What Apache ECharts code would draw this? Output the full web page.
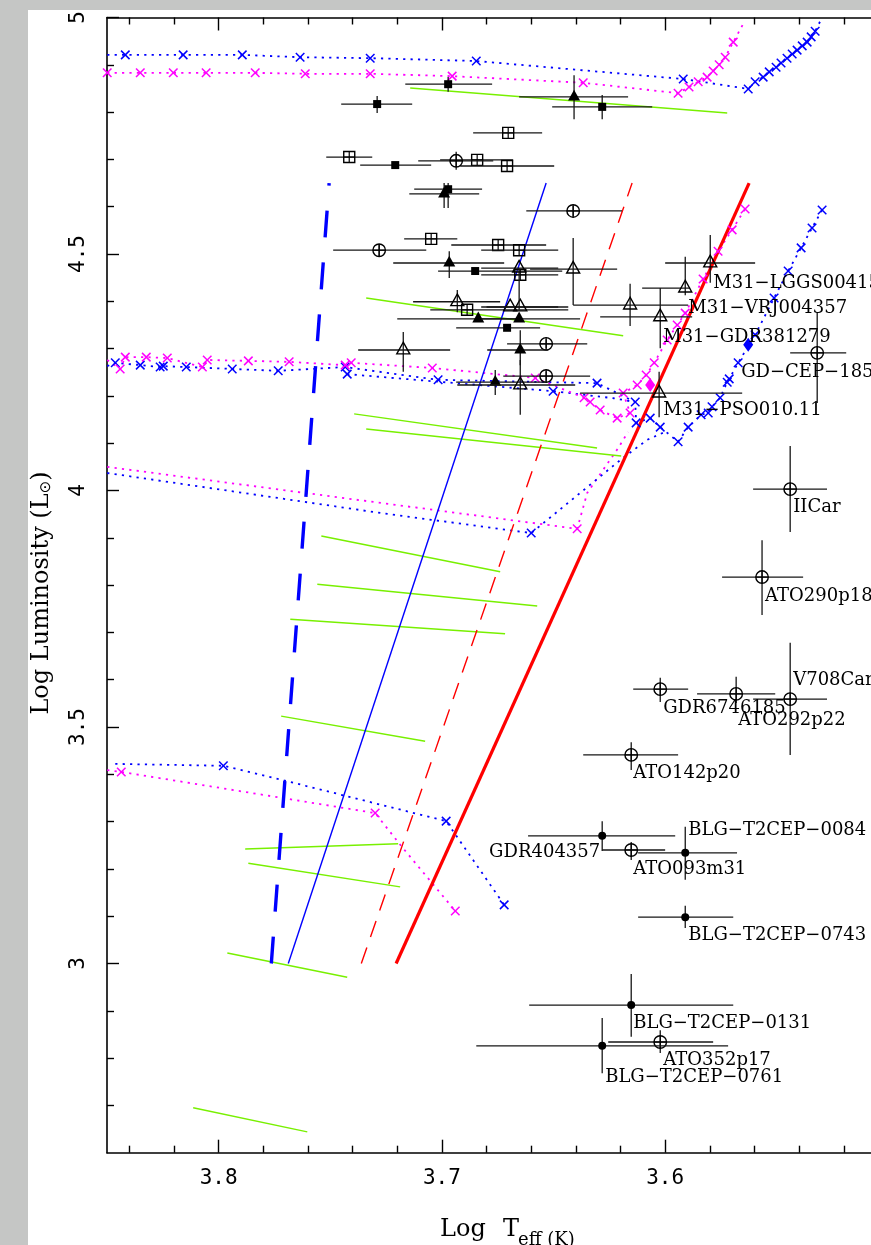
<!DOCTYPE html>
<html><head><meta charset="utf-8">
<script src="https://cdn.jsdelivr.net/npm/echarts@6/dist/echarts.min.js"></script>
<style>html,body{margin:0;padding:0;background:#fff}#c{width:871px;height:1245px}</style>
</head><body><div id="c"></div>
<script>
// ---------------- axis ticks ----------------
const xMajor = [3.6, 3.7, 3.8];
const xMinor = [3.52,3.54,3.56,3.58,3.62,3.64,3.66,3.68,3.72,3.74,3.76,3.78,3.82,3.84];
const yMajor = [3, 3.5, 4, 4.5, 5];
const yMinor = [2.7,2.8,2.9,3.1,3.2,3.3,3.4,3.6,3.7,3.8,3.9,4.1,4.2,4.3,4.4,4.6,4.7,4.8,4.9];
const xRange = [3.5078, 3.85];   // visible part of the (cropped) temperature axis
const yRange = [2.6, 5.0];

// ---------------- evolutionary tracks [logTeff, logL, hasMarker] ----------------
const blueTrackTop = [
 [3.8499,4.921,0],[3.8418,4.921,1],[3.8159,4.921,1],[3.7894,4.921,1],[3.7635,4.916,1],[3.7321,4.914,1],
 [3.6846,4.908,1],[3.5919,4.870,1],[3.5628,4.849,1],[3.5597,4.864,1],[3.5561,4.874,1],[3.5534,4.885,1],
 [3.5503,4.895,1],[3.5481,4.904,1],[3.5454,4.914,1],[3.5431,4.923,1],[3.5409,4.931,1],[3.5386,4.940,1],
 [3.5364,4.948,1],[3.5346,4.959,1],[3.5328,4.971,1],[3.5297,5.000,0]
];
const magentaTrackTop = [
 [3.8499,4.883,1],[3.8351,4.883,1],[3.8203,4.883,1],[3.8056,4.883,1],[3.7836,4.883,1],[3.7612,4.881,1],
 [3.7321,4.881,1],[3.6954,4.876,1],[3.6367,4.862,1],[3.5942,4.840,1],[3.5893,4.853,1],[3.5852,4.864,1],
 [3.5812,4.874,1],[3.5785,4.887,1],[3.5758,4.900,1],[3.5731,4.916,1],[3.5695,4.948,1],[3.5673,4.967,0],
 [3.5651,4.986,0]
];
const blueTrackMid = [
 [3.8499,4.263,0],[3.8463,4.270,1],[3.8351,4.265,1],[3.8262,4.261,1],[3.8248,4.263,1],[3.8145,4.261,1],
 [3.7939,4.257,1],[3.7733,4.253,1],[3.7433,4.261,1],[3.7017,4.234,1],[3.6305,4.227,1],[3.6134,4.187,1],
 [3.6130,4.143,1],[3.6067,4.153,1],[3.6022,4.134,1],[3.5942,4.103,1],[3.5897,4.134,1],[3.5839,4.160,1],
 [3.5807,4.164,1],[3.5790,4.177,1],[3.5754,4.196,1],[3.5722,4.229,1],[3.5713,4.236,1],[3.5673,4.270,1],
 [3.5597,4.329,1],[3.5512,4.407,1],[3.5449,4.464,1],[3.5391,4.513,1],[3.5342,4.555,1],[3.5297,4.593,1]
];
const blueTrackMidB = [
 [3.7424,4.246,1],[3.6502,4.210,1],[3.6230,4.195,0],[3.6134,4.187,0]
];
const magentaTrackMid = [
 [3.8499,4.276,0],[3.8441,4.257,1],[3.8418,4.282,1],[3.8324,4.282,1],[3.8230,4.280,1],[3.8073,4.261,1],
 [3.8051,4.276,1],[3.7867,4.274,1],[3.7684,4.272,1],[3.7433,4.265,1],[3.7406,4.270,1],[3.7043,4.259,1],
 [3.6582,4.238,1],[3.6363,4.196,1],[3.6336,4.187,1],[3.6291,4.170,1],[3.6215,4.153,1],[3.6157,4.164,1],
 [3.6188,4.206,1],[3.6125,4.223,1],[3.6085,4.244,1],[3.6049,4.270,1],[3.5991,4.318,1],[3.5946,4.350,1],
 [3.5910,4.375,1],[3.5830,4.447,1],[3.5763,4.506,1],[3.5700,4.551,1],[3.5642,4.595,1]
];
const magentaTrack4 = [
 [3.8499,4.050,0],[3.6394,3.919,1],[3.6349,3.995,0],[3.6210,4.090,0],[3.6166,4.124,0]
];
const blueTrack4 = [
 [3.8499,4.037,0],[3.7268,3.952,0],[3.6600,3.910,1],[3.6202,4.064,0],[3.6081,4.107,0],[3.6000,4.124,0]
];
const blueTrackLow = [
 [3.8463,3.422,0],[3.7979,3.418,1],[3.7715,3.388,0],[3.6981,3.301,1],[3.6931,3.267,0],[3.6721,3.124,1]
];
const magentaTrackLow = [
 [3.8499,3.409,0],[3.8436,3.405,1],[3.7715,3.350,0],[3.7299,3.318,1],[3.7178,3.246,0],[3.6940,3.111,1]
];
const magentaDiamonds = [[3.6067,4.223]];
const blueDiamonds = [[3.5628,4.308]];

// ---------------- green segments [logT1, logL1, logT2, logL2] ----------------
const greenSegments = [
 [3.7142,4.851,3.5722,4.798],
 [3.7339,4.407,3.6188,4.327],
 [3.7393,4.162,3.6305,4.090],
 [3.7339,4.130,3.6197,4.073],
 [3.7540,3.904,3.6739,3.828],
 [3.7558,3.802,3.6573,3.756],
 [3.7679,3.728,3.6717,3.697],
 [3.7720,3.523,3.7075,3.470],
 [3.7881,3.242,3.7196,3.253],
 [3.7867,3.212,3.7187,3.162],
 [3.7961,3.022,3.7424,2.971],
 [3.8114,2.695,3.7603,2.644]
];

// ---------------- instability strip edges ----------------
const blueEdgeDashed = [[3.7764,3.0],[3.7505,4.65]];
const blueEdgeSolid  = [[3.7688,3.0],[3.6533,4.65]];
const redEdgeDashed  = [[3.7361,3.0],[3.6148,4.65]];
const redEdgeSolid   = [[3.7205,3.0],[3.5624,4.65]];

// ---------------- stars [logT, logL, logT_lo, logT_hi, logL_lo, logL_hi] ----------------
const filledSquares = [
 [3.6972,4.859,3.7164,3.6775,4.843,4.874],
 [3.7290,4.817,3.7451,3.7133,4.798,4.834],
 [3.6282,4.811,3.6506,3.6058,4.785,4.836],
 [3.7209,4.688,3.7366,3.7048,4.688,4.688],
 [3.6972,4.637,3.7124,3.6820,4.597,4.650],
 [3.6851,4.464,3.7017,3.6461,4.464,4.464],
 [3.6708,4.344,3.6936,3.6560,4.344,4.344]
];
const boxedPlus = [
 [3.6703,4.756,3.6860,3.6551,4.756,4.756],
 [3.7415,4.705,3.7518,3.7312,4.705,4.705],
 [3.6842,4.699,3.7008,3.6681,4.699,4.699],
 [3.6708,4.686,3.6918,3.6497,4.686,4.686],
 [3.7048,4.532,3.7169,3.6931,4.532,4.532],
 [3.6748,4.519,3.6958,3.6533,4.519,4.519],
 [3.6654,4.508,3.6824,3.6479,4.508,4.508],
 [3.6649,4.456,3.6824,3.6479,4.456,4.456],
 [3.6887,4.382,3.7052,3.6434,4.382,4.382]
];
const openCircles = [
 [3.6936,4.697,3.7106,3.6770,4.678,4.716],
 [3.6412,4.591,3.6622,3.6193,4.580,4.602],
 [3.7281,4.508,3.7487,3.7070,4.496,4.520],
 [3.6533,4.310,3.6708,3.6349,4.300,4.320],
 [3.6533,4.242,3.6725,3.6336,4.232,4.252]
];
const labeledCircles = [
 ['IICar',      3.5440,4.003,3.5606,3.5275,3.912,4.094],
 ['ATO290p18',  3.5566,3.817,3.5745,3.5382,3.737,3.895],
 ['V708Car',    3.5440,3.559,3.5606,3.5275,3.441,3.678],
 ['ATO292p22',  3.5682,3.570,3.5857,3.5507,3.551,3.606],
 ['GDR6746185', 3.6022,3.580,3.6143,3.5897,3.553,3.604],
 ['ATO142p20',  3.6152,3.441,3.6367,3.5942,3.409,3.468],
 ['ATO093m31',  3.6152,3.240,3.6282,3.6000,3.219,3.257],
 ['ATO352p17',  3.6022,2.834,3.6255,3.5785,2.811,2.859],
 ['GD−CEP−185', 3.5319,4.291,3.5440,3.5189,4.185,4.377]
];
const filledTriangles = [
 [3.6408,4.832,3.6654,3.6166,4.785,4.878],
 [3.6990,4.627,3.7146,3.6833,4.597,4.650],
 [3.6967,4.481,3.7218,3.6721,4.449,4.506],
 [3.6837,4.363,3.7200,3.6649,4.363,4.363],
 [3.6654,4.363,3.6824,3.6381,4.363,4.363],
 [3.6649,4.297,3.6797,3.6524,4.265,4.339],
 [3.6761,4.229,3.6936,3.6533,4.202,4.255]
];
const openTriangles = [
 [3.6412,4.468,3.6605,3.6215,4.392,4.534],
 [3.6157,4.392,3.6412,3.5897,4.348,4.437],
 [3.7173,4.297,3.7375,3.6963,4.251,4.335],
 [3.6931,4.399,3.7129,3.6739,4.377,4.424],
 [3.6694,4.388,3.6824,3.6479,4.388,4.388],
 [3.6649,4.388,3.6800,3.6434,4.388,4.388],
 [3.6654,4.470,3.6824,3.6479,4.382,4.470],
 [3.6649,4.223,3.6931,3.6403,4.160,4.276]
];
const labeledTriangles = [
 ['M31−LGGS00415',3.5798,4.481,3.6000,3.5597,4.439,4.540],
 ['M31−VRJ004357',3.5910,4.428,3.6103,3.5888,4.413,4.494],
 ['M31−GDR381279',3.6022,4.367,3.6291,3.5879,4.301,4.428],
 ['M31−PSO010.11',3.6027,4.206,3.6381,3.5655,4.155,4.251]
];
const filledCircles = [
 ['BLG−T2CEP−0084',3.5910,3.234,3.6121,3.5678,3.177,3.289],
 ['GDR404357',     3.6282,3.270,3.6614,3.5955,3.238,3.301],
 ['BLG−T2CEP−0743',3.5910,3.098,3.6121,3.5695,3.075,3.122],
 ['BLG−T2CEP−0131',3.6152,2.912,3.6609,3.5695,2.845,2.978],
 ['BLG−T2CEP−0761',3.6282,2.826,3.6846,3.5718,2.768,2.885]
];

// ---------------- styling (not data) ----------------
const labelPlacement = {
 'IICar':[3,18,'left'],'ATO290p18':[3,19,'left'],'V708Car':[3,-19,'left'],'ATO292p22':[2,26,'left'],
 'GDR6746185':[3,19,'left'],'ATO142p20':[2,18,'left'],'ATO093m31':[2,19,'left'],'ATO352p17':[3,18,'left'],
 'GD−CEP−185':[-76,19,'left'],'M31−LGGS00415':[3,20,'left'],'M31−VRJ004357':[3,20,'left'],
 'M31−GDR381279':[3,20,'left'],'M31−PSO010.11':[4,17,'left'],'BLG−T2CEP−0084':[3,-22,'left'],
 'GDR404357':[-2,17,'right'],'BLG−T2CEP−0743':[3,18,'left'],'BLG−T2CEP−0131':[2,18,'left'],
 'BLG−T2CEP−0761':[3,32,'left']
};
const BLUE='#0000ff', MAG='#ff00ff', RED='#ff0000', GREEN='#78f000', INK='#000';
const SIZE={fsquare:8,bsquare:11,ocircle:12.5,ftri:12,otri:13,fcircle:8,xmark:8.5};

function shapeEls(kind,x,y,color){
  const s=SIZE[kind]||10, c=color||INK, h=s/2;
  const st={stroke:c,lineWidth:1.4,fill:'none'};
  switch(kind){
    case 'fsquare': return [{type:'rect',shape:{x:x-h,y:y-h,width:s,height:s},style:{fill:c}}];
    case 'bsquare': return [{type:'rect',shape:{x:x-h,y:y-h,width:s,height:s},style:st},
      {type:'line',shape:{x1:x-h,y1:y,x2:x+h,y2:y},style:{stroke:c,lineWidth:1.2}},
      {type:'line',shape:{x1:x,y1:y-h,x2:x,y2:y+h},style:{stroke:c,lineWidth:1.2}}];
    case 'ocircle': return [{type:'circle',shape:{cx:x,cy:y,r:h},style:st},
      {type:'line',shape:{x1:x-h,y1:y,x2:x+h,y2:y},style:{stroke:c,lineWidth:1.2}},
      {type:'line',shape:{x1:x,y1:y-h,x2:x,y2:y+h},style:{stroke:c,lineWidth:1.2}}];
    case 'ftri': return [{type:'polygon',shape:{points:[[x,y-s*0.6],[x-h,y+s*0.3],[x+h,y+s*0.3]]},style:{fill:c}}];
    case 'otri': return [{type:'polygon',shape:{points:[[x,y-s*0.6],[x-h,y+s*0.3],[x+h,y+s*0.3]]},style:st}];
    case 'fcircle': return [{type:'circle',shape:{cx:x,cy:y,r:h},style:{fill:c}}];
    case 'xmark': return [{type:'line',shape:{x1:x-h,y1:y-h,x2:x+h,y2:y+h},style:{stroke:c,lineWidth:1.5}},
      {type:'line',shape:{x1:x-h,y1:y+h,x2:x+h,y2:y-h},style:{stroke:c,lineWidth:1.5}}];
    case 'diamond': return [{type:'polygon',shape:{points:[[x,y-7],[x+5,y],[x,y+7],[x-5,y]]},style:{fill:c}}];
  }
  return [];
}

function starSeries(rows, kind){
  return {type:'custom',coordinateSystem:'cartesian2d',data:rows,z:10,animation:false,silent:true,
    renderItem:function(p,api){
      const x=api.value(0),y=api.value(1);
      const c=api.coord([x,y]);
      const a=api.coord([api.value(2),y]), b=api.coord([api.value(3),y]);
      const d=api.coord([x,api.value(4)]), e=api.coord([x,api.value(5)]);
      const ch=[]; const bs={stroke:'#161616',lineWidth:1.3};
      if(Math.abs(b[0]-a[0])>0.5) ch.push({type:'line',shape:{x1:a[0],y1:a[1],x2:b[0],y2:b[1]},style:bs});
      if(Math.abs(e[1]-d[1])>0.5) ch.push({type:'line',shape:{x1:d[0],y1:d[1],x2:e[0],y2:e[1]},style:bs});
      return {type:'group',children:ch.concat(shapeEls(kind,c[0],c[1]))};
    }};
}
function markerSeries(points, kind, color){
  return {type:'custom',coordinateSystem:'cartesian2d',data:points,z:6,animation:false,silent:true,
    renderItem:function(p,api){
      const c=api.coord([api.value(0),api.value(1)]);
      return {type:'group',children:shapeEls(kind,c[0],c[1],color)};
    }};
}
function trackSeries(track,color){
  return {type:'line',data:track.map(r=>[r[0],r[1]]),showSymbol:false,symbol:'none',z:3,animation:false,silent:true,
    lineStyle:{color:color,width:1.8,type:[2.2,5.2]}};
}
function edgeSeries(pts,color,width,type){
  return {type:'line',data:pts,showSymbol:false,symbol:'none',z:4,animation:false,silent:true,
    lineStyle:{color:color,width:width,type:type}};
}
function labelSeries(rows){
  return {type:'custom',coordinateSystem:'cartesian2d',data:rows.map(r=>[r[1],r[2]]),z:12,animation:false,silent:true,
    renderItem:function(p,api){
      const name=rows[p.dataIndex][0]; const pl=labelPlacement[name];
      const c=api.coord([api.value(0),api.value(1)]);
      return {type:'text',x:c[0]+pl[0],y:c[1]+pl[1],
        style:{text:name,fill:INK,fontSize:18,fontFamily:'DejaVu Serif',align:pl[2],verticalAlign:'middle'}};
    }};
}
const strip = a => a.map(r=>r.slice(1));
const marked = t => t.filter(r=>r[2]).map(r=>[r[0],r[1]]);

const series = [];
[[blueTrackTop,BLUE],[magentaTrackTop,MAG],[blueTrackMid,BLUE],[blueTrackMidB,BLUE],[magentaTrackMid,MAG],
 [magentaTrack4,MAG],[blueTrack4,BLUE],[blueTrackLow,BLUE],[magentaTrackLow,MAG]].forEach(([t,c])=>{
  series.push(trackSeries(t,c));
  series.push(markerSeries(marked(t),'xmark',c));
});
series.push(markerSeries(magentaDiamonds,'diamond',MAG));
series.push(markerSeries(blueDiamonds,'diamond',BLUE));
series.push({type:'custom',coordinateSystem:'cartesian2d',data:greenSegments,z:4,animation:false,silent:true,
  renderItem:function(p,api){
    const a=api.coord([api.value(0),api.value(1)]), b=api.coord([api.value(2),api.value(3)]);
    return {type:'line',shape:{x1:a[0],y1:a[1],x2:b[0],y2:b[1]},style:{stroke:GREEN,lineWidth:1.5}};
  }});
series.push(edgeSeries(blueEdgeDashed,BLUE,3.4,[27,25]));
series.push(edgeSeries(blueEdgeSolid,BLUE,1.4,'solid'));
series.push(edgeSeries(redEdgeDashed,RED,1.4,[17,11]));
series.push(edgeSeries(redEdgeSolid,RED,3.2,'solid'));
series.push(starSeries(filledSquares,'fsquare'));
series.push(starSeries(boxedPlus,'bsquare'));
series.push(starSeries(openCircles,'ocircle'));
series.push(starSeries(strip(labeledCircles),'ocircle'));
series.push(starSeries(filledTriangles,'ftri'));
series.push(starSeries(openTriangles,'otri'));
series.push(starSeries(strip(labeledTriangles),'otri'));
series.push(starSeries(strip(filledCircles),'fcircle'));
series.push(labelSeries(labeledCircles));
series.push(labelSeries(labeledTriangles));
series.push(labelSeries(filledCircles));

const axLine={show:true,lineStyle:{color:INK,width:1.6}};
const tickFont={fontFamily:'DejaVu Sans Mono',fontSize:21,color:INK};
function xAx(pos,vals,len,line,labels){
  return {type:'value',position:pos,inverse:true,min:xRange[0],max:xRange[1],splitLine:{show:false},
    axisLine:line?axLine:{show:false},
    axisTick:{show:true,inside:true,length:len,customValues:vals,lineStyle:{color:INK,width:1.4}},
    axisLabel:labels?Object.assign({show:true,customValues:vals,margin:15,formatter:v=>v.toFixed(1)},tickFont):{show:false}};
}
function yAx(vals,len,line,labels){
  return {type:'value',position:'left',min:yRange[0],max:yRange[1],splitLine:{show:false},
    axisLine:line?axLine:{show:false},
    axisTick:{show:true,inside:true,length:len,customValues:vals,lineStyle:{color:INK,width:1.4}},
    axisLabel:labels?Object.assign({show:true,customValues:vals,rotate:90,margin:18,
      formatter:v=>(Math.abs(v-Math.round(v))<1e-9?String(Math.round(v)):v.toFixed(1))},tickFont):{show:false}};
}

const chart = echarts.init(document.getElementById('c'),null,{renderer:'canvas'});
chart.setOption({
  backgroundColor:'#ffffff',
  animation:false,
  grid:{left:107,top:17.5,right:0,bottom:92.3,containLabel:false},
  xAxis:[xAx('bottom',xMajor,13,true,true),xAx('bottom',xMinor,7,false,false),
         xAx('top',xMajor,13,true,false),xAx('top',xMinor,7,false,false)],
  yAxis:[yAx(yMajor,12,true,true),yAx(yMinor,7,false,false)],
  graphic:[
    {type:'rect',z:-10,shape:{x:0,y:0,width:871,height:10},style:{fill:'#c5c6c5'}},
    {type:'rect',z:-10,shape:{x:0,y:0,width:28,height:1245},style:{fill:'#c5c6c5'}},
    {type:'text',x:42,y:593,rotation:Math.PI/2,
      style:{text:'{a|Log Luminosity (L}{b|⊙}{a|)}',align:'center',verticalAlign:'middle',fill:INK,
        rich:{a:{fontFamily:'DejaVu Serif',fontSize:24,lineHeight:24,verticalAlign:'top'},
              b:{fontFamily:'DejaVu Sans',fontSize:15,lineHeight:6,verticalAlign:'bottom'}}}},
    {type:'text',x:440,y:1230,style:{text:'Log',fill:INK,fontFamily:'DejaVu Serif',fontSize:24,align:'left',verticalAlign:'middle'}},
    {type:'text',x:503,y:1230,style:{text:'T',fill:INK,fontFamily:'DejaVu Serif',fontSize:24,align:'left',verticalAlign:'middle'}},
    {type:'text',x:518,y:1240,style:{text:'eff (K)',fill:INK,fontFamily:'DejaVu Serif',fontSize:18,align:'left',verticalAlign:'middle'}}
  ],
  series:series
});
</script></body></html>
